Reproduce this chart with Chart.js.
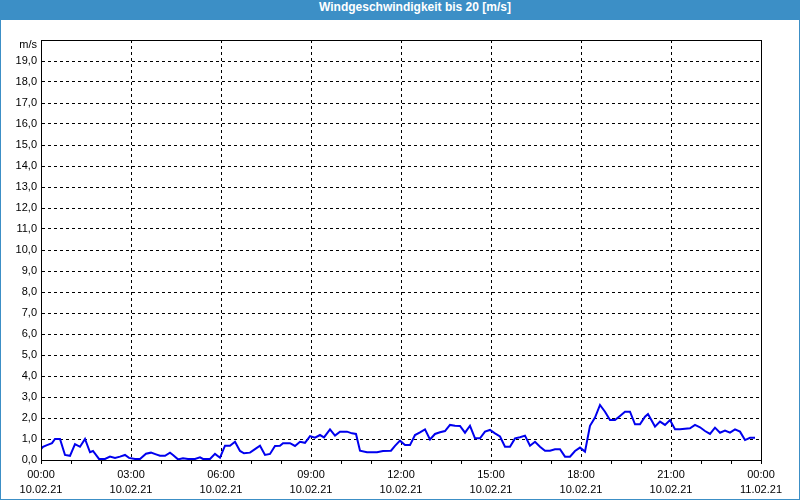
<!DOCTYPE html>
<html>
<head>
<meta charset="utf-8">
<title>Windgeschwindigkeit</title>
<script src="https://cdn.jsdelivr.net/npm/chart.js@4.4.0/dist/chart.umd.min.js"></script>
<style>
  html, body { margin: 0; padding: 0; background: #fff; }
  #rahmen { position: relative; width: 800px; height: 500px; background: #3c8fc6; }
  #titel { height: 20px; line-height: 20px; padding-left: 30px; text-align: center; color: #fff;
           font: bold 12px "Liberation Sans", Arial, sans-serif; }
  #flaeche { position: absolute; left: 1px; top: 20px; width: 798px; height: 479px; background: #fff; }
</style>
</head>
<body>
<div id="rahmen">
  <div id="titel">Windgeschwindigkeit bis 20 [m/s]</div>
  <div id="flaeche"><canvas id="grafico" width="798" height="479"></canvas></div>
</div>
<script>
// Minuten ab 00:00 des 10.02.21
const minuten = [
  0, 4, 12, 22, 28, 38, 48, 58, 68, 78, 88, 98, 104, 116, 128, 138, 148, 158, 168, 176,
  188, 198, 210, 220, 230, 238, 248, 258, 264, 274, 284, 294, 308, 318, 324, 338, 348, 358, 368, 378,
  388, 398, 406, 418, 428, 438, 448, 458, 468, 478, 484, 498, 508, 518, 528, 538, 548, 558, 566, 578,
  588, 598, 612, 622, 630, 638, 652, 672, 684, 700, 708, 718, 728, 738, 748, 758, 768, 778, 788, 798,
  808, 818, 828, 838, 848, 858, 868, 878, 888, 898, 908, 918, 928, 938, 948, 958, 968, 978, 988, 998,
  1008, 1018, 1028, 1038, 1048, 1058, 1068, 1078, 1088, 1098, 1108, 1118, 1128, 1138, 1148, 1158, 1168, 1178, 1188, 1198,
  1208, 1214, 1228, 1238, 1248, 1258, 1268, 1278, 1298, 1308, 1318, 1328, 1338, 1348, 1358, 1368, 1378, 1388, 1398, 1408,
  1418, 1428
];
// Windgeschwindigkeit in m/s
const wind = [
  0.52, 0.63, 0.71, 0.80, 1.00, 1.00, 0.24, 0.20, 0.76, 0.63, 1.00, 0.37, 0.43, 0.05, 0.05, 0.16, 0.10, 0.16, 0.24, 0.10,
  0.05, 0.05, 0.30, 0.35, 0.27, 0.20, 0.20, 0.35, 0.24, 0.03, 0.08, 0.05, 0.05, 0.13, 0.05, 0.05, 0.29, 0.11, 0.68, 0.68,
  0.87, 0.43, 0.32, 0.35, 0.52, 0.68, 0.24, 0.29, 0.67, 0.68, 0.80, 0.80, 0.67, 0.87, 0.82, 1.14, 1.06, 1.19, 1.08, 1.46,
  1.16, 1.35, 1.35, 1.27, 1.24, 0.44, 0.37, 0.37, 0.43, 0.44, 0.67, 0.92, 0.71, 0.71, 1.19, 1.32, 1.46, 0.98, 1.24, 1.32,
  1.38, 1.67, 1.63, 1.62, 1.30, 1.63, 1.03, 1.03, 1.35, 1.43, 1.27, 1.12, 0.63, 0.63, 1.03, 1.08, 1.16, 0.68, 0.87, 0.63,
  0.44, 0.44, 0.51, 0.51, 0.16, 0.16, 0.43, 0.59, 0.40, 1.63, 2.02, 2.62, 2.30, 1.90, 1.90, 2.10, 2.30, 2.30, 1.70, 1.70,
  2.06, 2.19, 1.59, 1.83, 1.67, 1.90, 1.46, 1.46, 1.51, 1.67, 1.56, 1.38, 1.24, 1.54, 1.30, 1.40, 1.30, 1.46, 1.35, 0.95,
  1.06, 1.06
];
// Datum unter den Uhrzeiten
const tage = ['10.02.21', '11.02.21'];

const schrift = '"Liberation Sans", Arial, sans-serif';

function uhrzeit(v) {
  const h = Math.floor(v / 60) % 24;
  return String(h).padStart(2, '0') + ':00';
}

// Rahmen um die Zeichenfläche und Einheit oben links
const rahmenPlugin = {
  id: 'rahmen',
  afterDraw(chart) {
    const { ctx, chartArea: a } = chart;
    ctx.save();
    ctx.strokeStyle = '#000';
    ctx.lineWidth = 1;
    ctx.strokeRect(Math.round(a.left) + 0.5, Math.round(a.top) + 0.5,
                   Math.round(a.right - a.left), Math.round(a.bottom - a.top));
    ctx.fillStyle = '#000';
    ctx.font = '11px ' + schrift;
    ctx.textAlign = 'right';
    ctx.textBaseline = 'middle';
    ctx.fillText('m/s', a.left - 4, a.top + 5);
    ctx.restore();
  }
};

const ctx = document.getElementById('grafico').getContext('2d');
new Chart(ctx, {
  type: 'line',
  data: {
    datasets: [{
      data: minuten.map((m, i) => ({ x: m, y: wind[i] })),
      borderColor: '#0000ee',
      borderWidth: 2,
      pointRadius: 0,
      tension: 0,
      fill: false
    }]
  },
  options: {
    responsive: false,
    animation: false,
    layout: { padding: { left: 0, top: 20, right: 38, bottom: 0 } },
    plugins: { legend: { display: false }, tooltip: { enabled: false } },
    scales: {
      x: {
        type: 'linear',
        min: 0,
        max: 1440,
        afterFit: s => { s.height = 39; },
        ticks: {
          stepSize: 60,
          autoSkip: false,
          maxRotation: 0,
          color: '#000',
          padding: 3.5,
          font: { family: schrift, size: 11, lineHeight: '15px' },
          callback: v => v % 180 === 0 ? [uhrzeit(v), v >= 1440 ? tage[1] : tage[0]] : ''
        },
        grid: {
          color: c => (c.tick && c.tick.value % 180 === 0) ? '#000' : 'rgba(0,0,0,0)',
          tickColor: '#000',
          tickLength: 4,
          lineWidth: 1
        },
        border: { color: '#000', width: 1, dash: [3, 3] }
      },
      y: {
        min: 0,
        max: 20,
        afterFit: s => { s.width = 40; },
        ticks: {
          stepSize: 1,
          color: '#000',
          padding: 4,
          font: { family: schrift, size: 11 },
          callback: v => v === 20 ? '' : v.toFixed(1).replace('.', ',')
        },
        grid: { color: '#000', drawTicks: false, lineWidth: 1 },
        border: { color: '#000', width: 1, dash: [3, 3] }
      }
    }
  },
  plugins: [rahmenPlugin]
});
</script>
</body>
</html>
